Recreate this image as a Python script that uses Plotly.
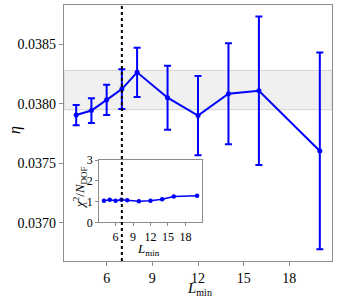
import plotly.graph_objects as go

# ---- data ----
L_min = [4, 5, 6, 7, 8, 10, 12, 14, 16, 20]
eta = [0.037905, 0.037943, 0.038033, 0.038123, 0.038264, 0.038051, 0.037901, 0.038084, 0.038109, 0.037603]
eta_err = [0.000085, 0.000104, 0.000127, 0.000167, 0.000207, 0.000269, 0.000333, 0.000424, 0.000624, 0.000827]
chi2_ndof = [1.04, 1.09, 1.04, 1.08, 1.06, 1.01, 1.04, 1.11, 1.24, 1.28]
band_low, band_high = 0.03795, 0.03828
L_cut = 7
x_ticks = [6, 9, 12, 15, 18]
y_ticks = [0.0370, 0.0375, 0.0380, 0.0385]
inset_y_ticks = [0, 1, 2, 3]

W, H = 338, 300
ML, MR, MT, MB = 64, 6, 5, 39
PW, PH = W - ML - MR, H - MT - MB

def px(x):
    return (x - ML) / PW

def py(y):
    return (H - MB - y) / PH

BLUE = "#0000ff"
FONT = "Liberation Serif"
FRAME = "#8c8c8c"

fig = go.Figure()

fig.add_trace(go.Scatter(
    x=L_min, y=eta, mode="lines+markers",
    line=dict(color=BLUE, width=2),
    marker=dict(color=BLUE, size=5),
    error_y=dict(type="data", array=eta_err, color=BLUE, thickness=2, width=3.5),
    showlegend=False, xaxis="x", yaxis="y", hoverinfo="skip",
))

fig.add_trace(go.Scatter(
    x=L_min, y=chi2_ndof, mode="lines+markers",
    line=dict(color=BLUE, width=1.5),
    marker=dict(color=BLUE, size=4.5),
    showlegend=False, xaxis="x2", yaxis="y2", hoverinfo="skip",
))

ix0, ix1 = px(99.3), px(201.7)
iy0, iy1 = py(222.3), py(160)

common = dict(showline=True, mirror=True, linecolor=FRAME, linewidth=1.2,
              ticks="outside", tickcolor=FRAME, showgrid=False, zeroline=False,
              automargin=False)

fig.update_layout(
    width=W, height=H,
    margin=dict(l=ML, r=MR, t=MT, b=MB, autoexpand=False),
    paper_bgcolor="white", plot_bgcolor="white",
    font=dict(family=FONT, size=14, color="black"),
    xaxis=dict(domain=[0, 1], range=[3.2, 20.8], tickvals=x_ticks, ticklen=4,
               tickfont=dict(size=14), **common),
    yaxis=dict(domain=[0, 1], range=[0.036678, 0.03883], tickvals=y_ticks, ticklen=4,
               tickformat=".4f", tickfont=dict(size=14), **common),
    xaxis2=dict(domain=[ix0, ix1], anchor="y2", range=[3.2, 20.8], tickvals=x_ticks,
                ticklen=3, tickfont=dict(size=12), **common),
    yaxis2=dict(domain=[iy0, iy1], anchor="x2", range=[0, 3], tickvals=inset_y_ticks,
                ticklen=3, tickfont=dict(size=12), **common),
)

shapes = [
    dict(type="rect", xref="paper", yref="y", x0=0, x1=1, y0=band_low, y1=band_high,
         fillcolor="#f0f0f0", line=dict(color="#d4d4d4", width=1), layer="below"),
    dict(type="rect", xref="paper", yref="paper", x0=ix0, x1=ix1, y0=iy0, y1=iy1,
         fillcolor="white", line=dict(width=0), layer="below"),
    dict(type="line", xref="x", yref="paper", x0=L_cut, x1=L_cut, y0=0, y1=1,
         line=dict(color="black", width=2, dash="dot"), layer="above"),
]
fig.update_layout(shapes=shapes)

ann = [
    dict(text="<i>η</i>", x=px(15), y=py(130), textangle=-90, font=dict(size=16)),
    dict(text="<i>L</i><sub><span style='font-size:10px'>min</span></sub>",
         x=px(199), y=py(289), font=dict(size=15)),
    dict(text="<i>χ</i><sup>2</sup>/<i>N</i><sub><span style='font-size:9px'>DOF</span></sub>",
         x=px(80), y=py(188), textangle=-90, font=dict(size=13)),
    dict(text="<i>L</i><sub><span style='font-size:9px'>min</span></sub>",
         x=px(148), y=py(249), font=dict(size=13)),
]
for a in ann:
    a.update(xref="paper", yref="paper", showarrow=False, xanchor="center", yanchor="middle")
fig.update_layout(annotations=ann)

fig.write_html("out.html", config={"displayModeBar": False},
               post_script="document.body.style.margin='0';")
